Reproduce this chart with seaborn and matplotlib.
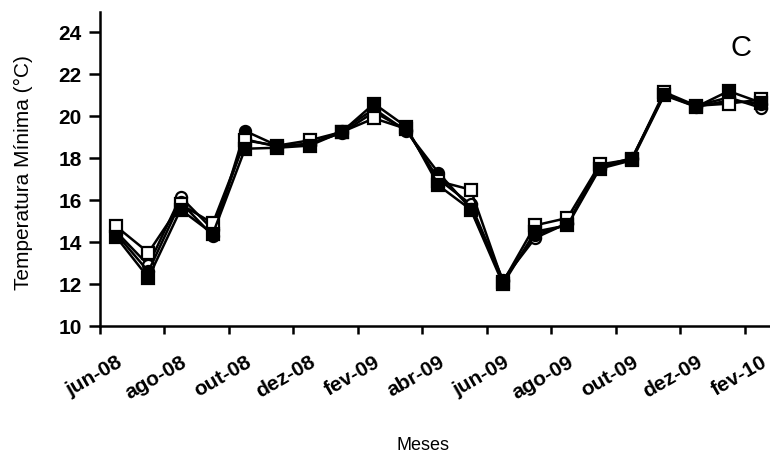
import numpy as np
import pandas as pd
import matplotlib
matplotlib.use("Agg")
import matplotlib.pyplot as plt
import matplotlib.transforms as mtransforms
import seaborn as sns

months = ["jun-08", "jul-08", "ago-08", "set-08", "out-08", "nov-08", "dez-08",
          "jan-09", "fev-09", "mar-09", "abr-09", "mai-09", "jun-09", "jul-09",
          "ago-09", "set-09", "out-09", "nov-09", "dez-09", "jan-10", "fev-10"]

open_square = [14.75, 13.5, 15.8, 14.9, 18.85, 18.6, 18.85, 19.25, 19.9, 19.4, 16.9,
               16.5, 12.1, 14.8, 15.15, 17.7, 17.95, 21.15, 20.5, 20.6, 20.8]
filled_square = [14.25, 12.3, 15.55, 14.4, 18.45, 18.5, 18.6, 19.25, 20.6, 19.5, 16.7,
                 15.55, 12.0, 14.5, 14.8, 17.5, 17.9, 21.0, 20.45, 21.2, 20.65]
open_circle = [14.5, 12.9, 16.15, 14.6, 18.9, 18.55, 18.7, 19.2, 20.2, 19.35, 17.0,
               15.8, 12.2, 14.2, 14.9, 17.55, 17.95, 21.05, 20.5, 20.9, 20.4]
filled_circle = [14.4, 12.6, 15.9, 14.3, 19.3, 18.6, 18.65, 19.3, 20.35, 19.3, 17.3,
                 15.6, 12.15, 14.35, 14.85, 17.6, 18.0, 21.05, 20.45, 20.75, 20.6]

tick_labels = ["jun-08", "ago-08", "out-08", "dez-08", "fev-09", "abr-09",
               "jun-09", "ago-09", "out-09", "dez-09", "fev-10"]
y_ticks = [10, 12, 14, 16, 18, 20, 22, 24]

series = {
    "open_circle": (open_circle, "o", "white"),
    "filled_circle": (filled_circle, "o", "black"),
    "open_square": (open_square, "s", "white"),
    "filled_square": (filled_square, "s", "black"),
}

sns.set_theme(style="white")
plt.rcParams["font.family"] = ["Liberation Sans", "DejaVu Sans"]

fig = plt.figure(figsize=(7.7, 4.53), dpi=100)
W, H = 770, 453
left, right, top, bottom = 100, 777, 12, 326
ax = fig.add_axes([left / W, 1 - bottom / H, (right - left) / W, (bottom - top) / H])

x = np.arange(len(months))
for name, (vals, mk, fc) in series.items():
    df = pd.DataFrame({"x": x, "y": vals})
    sns.lineplot(data=df, x="x", y="y", ax=ax, color="black", lw=1.8,
                 marker=mk, markersize=8, markerfacecolor=fc,
                 markeredgecolor="black", markeredgewidth=1.6, clip_on=False)

ax.set_xlim(-0.5, 20.5)
ax.set_ylim(10, 24.97)

# category labels every 2 months, boundary tick marks
ax.set_xticks(np.arange(0, len(months), 2))
ax.set_xticklabels(tick_labels, rotation=30, ha="right", rotation_mode="anchor",
                   fontsize=15, fontweight="bold", color="black")
shift = mtransforms.ScaledTranslation(-4 / 100, 0, fig.dpi_scale_trans)
for lbl in ax.get_xticklabels():
    lbl.set_transform(lbl.get_transform() + shift)
ax.set_xticks(np.arange(-0.5, 20.6, 2), minor=True)
ax.tick_params(axis="x", which="major", length=0, pad=19)
ax.tick_params(axis="x", which="minor", length=6, width=1.8, direction="out",
               color="black", bottom=True)

ax.set_yticks(y_ticks)
ax.set_yticklabels([str(v) for v in y_ticks], fontsize=15, fontweight="bold",
                   color="black")
ax.tick_params(axis="y", length=8, width=1.8, direction="out", color="black",
               pad=5, left=True)

for s in ["top", "right"]:
    ax.spines[s].set_visible(False)
for s in ["left", "bottom"]:
    ax.spines[s].set_color("black")
    ax.spines[s].set_linewidth(1.8)

ax.set_ylabel("Temperatura Mínima (°C)", fontsize=15, color="black")
ax.yaxis.set_label_coords(-0.099, 0.49)
ax.set_xlabel("Meses", fontsize=13, color="black")
ax.xaxis.set_label_coords(0.477, -0.353)

ax.text(0.947, 0.885, "C", transform=ax.transAxes, fontsize=21,
        ha="center", va="center", color="black")

fig.savefig("out.png", dpi=100)
